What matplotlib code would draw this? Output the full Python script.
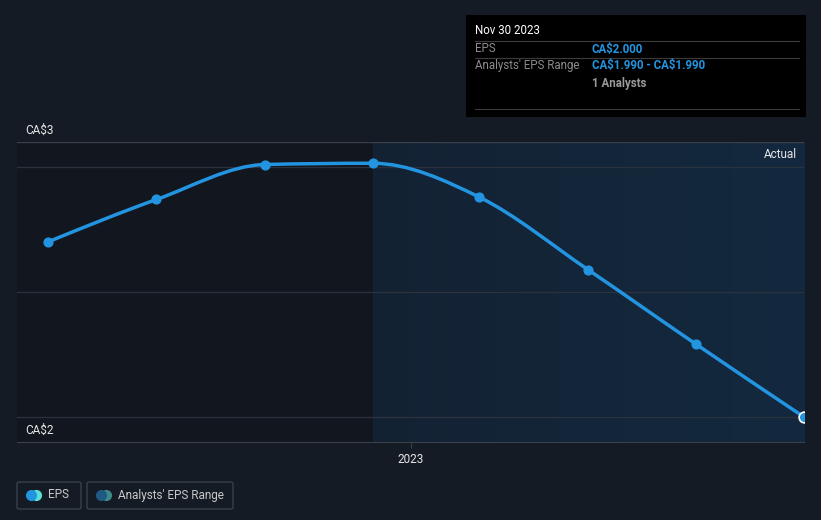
import matplotlib
matplotlib.use("Agg")
import matplotlib.pyplot as plt
import matplotlib.dates as mdates
from matplotlib.path import Path
from matplotlib.patches import PathPatch, Rectangle, FancyBboxPatch
from matplotlib.colors import LinearSegmentedColormap
import numpy as np
import datetime as dt

plt.rcParams['font.family'] = ['Roboto', 'DejaVu Sans']

# data
dates = ["2022-02-28", "2022-05-31", "2022-08-31", "2022-11-30",
         "2023-02-28", "2023-05-31", "2023-08-31", "2023-11-30"]
eps = [2.70, 2.87, 3.01, 3.015, 2.88, 2.59, 2.29, 2.00]
split_date = "2022-11-30"
x_start = "2022-02-02"
y_ticks = [2.0, 2.5, 3.0]
y_labels = ["CA$2", "CA$3"]

W, H = 821, 520
BG = "#151b25"
BLUE = "#2394e0"

fig = plt.figure(figsize=(W / 100, H / 100), dpi=100, facecolor=BG)
ax = fig.add_axes([17 / W, 1 - 442 / H, (804 - 17) / W, 300 / H])
ax.set_facecolor(BG)

x = mdates.date2num([dt.date.fromisoformat(d) for d in dates])
y = np.array(eps)
x0 = mdates.date2num(dt.date.fromisoformat(x_start))
xs = mdates.date2num(dt.date.fromisoformat(split_date))
ax.set_xlim(x0, x[-1])
ax.set_ylim(1.9, 3.1)

# shaded regions
ax.axvspan(x0, xs, color="#12161e", zorder=0, lw=0)
grad = np.linspace(0, 1, 256).reshape(1, -1)
cmap = LinearSegmentedColormap.from_list("g", ["#142233", "#13293f"])
ax.imshow(grad, cmap=cmap, extent=[xs, x[-1], 1.9, 3.1], aspect="auto", zorder=0)

for t in y_ticks:
    ax.axhline(t, color="#2b323d", lw=0.9, zorder=1)
ax.axhline(3.1, color="#3a404a", lw=1, zorder=1)

# monotone cubic (d3 curveMonotoneX) via bezier path
n = len(x)
h = np.diff(x)
s = np.diff(y) / h
m = np.zeros(n)
for i in range(1, n - 1):
    if s[i - 1] * s[i] <= 0:
        m[i] = 0
    else:
        p = (s[i - 1] * h[i] + s[i] * h[i - 1]) / (h[i - 1] + h[i])
        m[i] = (np.sign(s[i - 1]) + np.sign(s[i])) * min(abs(s[i - 1]), abs(s[i]), 0.5 * abs(p))
m[0] = (3 * s[0] - m[1]) / 2
m[-1] = (3 * s[-1] - m[-2]) / 2
verts = [(x[0], y[0])]
codes = [Path.MOVETO]
for i in range(n - 1):
    d = h[i] / 3
    verts += [(x[i] + d, y[i] + d * m[i]), (x[i + 1] - d, y[i + 1] - d * m[i + 1]), (x[i + 1], y[i + 1])]
    codes += [Path.CURVE4] * 3
ax.add_patch(PathPatch(Path(verts, codes), fill=False, edgecolor=BLUE, lw=2.5, zorder=3,
                       capstyle="round"))
ax.scatter(x[:-1], y[:-1], s=40, color=BLUE, zorder=4, clip_on=False)
ax.scatter(x[-1:], y[-1:], s=60, color=BLUE, edgecolor="white", lw=1.2, zorder=5, clip_on=True)

# axes styling
for sp in ["top", "right", "left"]:
    ax.spines[sp].set_visible(False)
ax.spines["bottom"].set_color("#3a404a")
ax.set_yticks([])
ax.set_xticks([mdates.date2num(dt.date(2023, 1, 1))])
ax.set_xticklabels(["2023"])
ax.tick_params(axis="x", colors="#3a404a", length=4, labelcolor="#e6e6e6", labelsize=8.5, pad=4)

def ftxt(px, py, s, **kw):
    fig.text(px / W, 1 - py / H, s, parse_math=False, **kw)

ftxt(25, 130, y_labels[1], color="#e6e6e6", fontsize=8.5, va="center")
ftxt(25, 430, y_labels[0], color="#e6e6e6", fontsize=8.5, va="center")
ftxt(797, 154, "Actual", color="#e6e6e6", fontsize=8.5, va="center", ha="right")

# tooltip
fig.patches.append(Rectangle((466 / W, 1 - 117 / H), 340 / W, 102 / H, transform=fig.transFigure,
                             facecolor="#000000", edgecolor="none", zorder=5))
for ly in [41, 58, 109]:
    fig.add_artist(plt.Line2D([475 / W, 799 / W], [1 - ly / H] * 2, color="#3b3b3b", lw=0.8, zorder=6))
ftxt(475, 31, "Nov 30 2023", color="#ffffff", fontsize=8.3, va="center", zorder=7)
ftxt(475, 49, "EPS", color="#8c8c8c", fontsize=8.3, va="center", zorder=7)
ftxt(592, 49, "CA$2.000", color=BLUE, fontsize=8.3, va="center", weight="bold", zorder=7)
ftxt(475, 66, "Analysts' EPS Range", color="#8c8c8c", fontsize=8.3, va="center", zorder=7)
ftxt(592, 66, "CA$1.990 - CA$1.990", color=BLUE, fontsize=8.3, va="center", weight="bold", zorder=7)
ftxt(592, 83, "1 Analysts", color="#9a9a9a", fontsize=8.3, va="center", weight="bold", zorder=7)

# legend
for bx, bw, label, c1, c2 in [(17, 64, "EPS", "#2394e0", "#5ce0d6"),
                              (87, 146, "Analysts' EPS Range", "#1f5a85", "#3d8a8a")]:
    fig.patches.append(FancyBboxPatch((bx / W, 1 - 509 / H), bw / W, 27 / H, transform=fig.transFigure,
                                      boxstyle="round,pad=0,rounding_size=0.003",
                                      facecolor="none", edgecolor="#3a404a", lw=1))
    fig.add_artist(plt.Line2D([(bx + 19) / W], [1 - 495 / H], marker="o", ms=7, color=c2, lw=0))
    fig.add_artist(plt.Line2D([(bx + 14) / W], [1 - 495 / H], marker="o", ms=7, color=c1, lw=0))
    ftxt(bx + 31, 495, label, color="#c8c8c8", fontsize=8.5, va="center")

fig.savefig("out.png", dpi=100, facecolor=BG)
